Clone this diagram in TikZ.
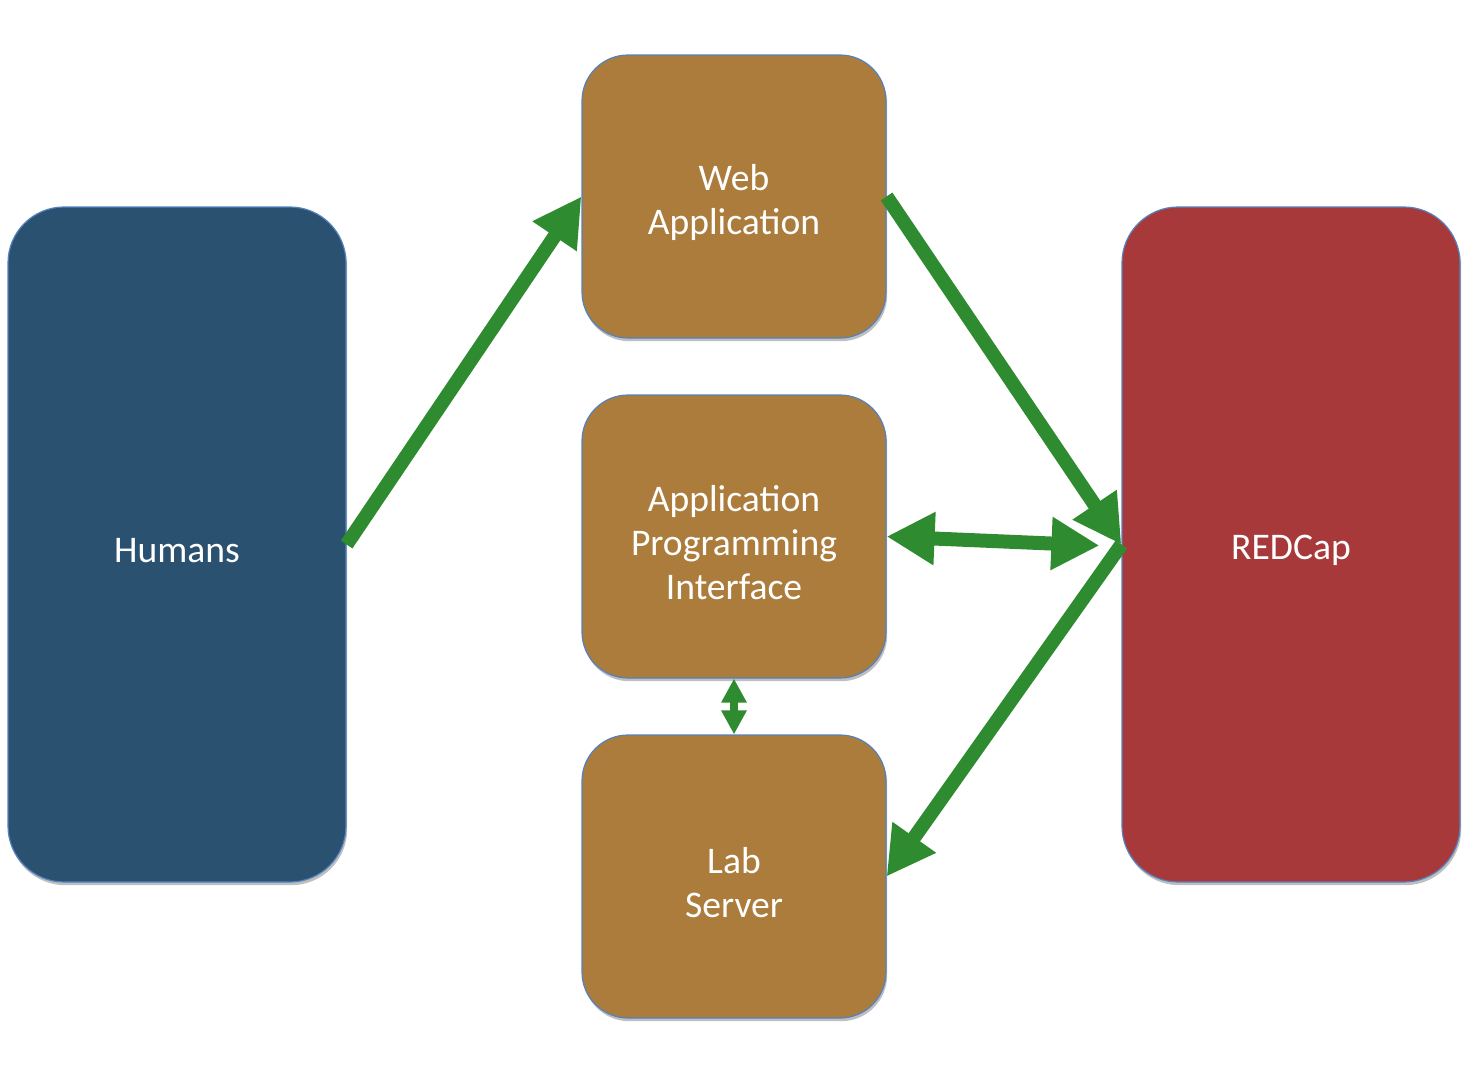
\documentclass[tikz,border=0pt]{standalone}
\usepackage{fontspec}
\setmainfont{Carlito}
\usetikzlibrary{arrows.meta,shadows}
\definecolor{humanblue}{RGB}{42,81,112}
\definecolor{appbrown}{RGB}{171,124,59}
\definecolor{redcapred}{RGB}{168,57,58}
\definecolor{edge}{RGB}{84,130,190}
\definecolor{flowgreen}{RGB}{46,139,48}
\tikzset{
  % Kästen
  box/.style={draw=edge, line width=0.6pt, rounded corners=#1, inner sep=0pt,
    drop shadow={shadow xshift=0.6pt, shadow yshift=-1.6pt, opacity=0.25, fill=black}},
  box/.default=23pt,
  % Beschriftung, etwas unter die Mitte gesetzt
  txt/.style={text=white, align=center, yshift=-3pt,
    font=\fontsize{18.8}{22}\selectfont},
  tall/.style={box=28pt, minimum width=169pt, minimum height=337.5pt},
  mid/.style={box=23pt, minimum width=152pt, minimum height=141.5pt, fill=appbrown},
  % Datenflüsse
  flow/.style={flowgreen, line width=7pt, -{Triangle[length=24pt,width=25pt]}},
  flowboth/.style={flow, {Triangle[length=24pt,width=25pt]}-{Triangle[length=24pt,width=25pt]}},
  flowsmall/.style={flowgreen, line width=4pt,
    {Triangle[length=12pt,width=12pt]}-{Triangle[length=12pt,width=12pt]}},
}
\begin{document}
\begin{tikzpicture}[x=0.5pt, y=-0.5pt]
  \useasboundingbox (0,0) rectangle (1468,1088);
  % Knoten
  \node[tall, fill=humanblue, label={[txt]center:Humans}] (humans) at (177,544.5) {};
  \node[tall, fill=redcapred, label={[txt]center:REDCap}] (redcap) at (1291,544.5) {};
  \node[mid, label={[txt]center:Web\\Application}] (web) at (734,196.5) {};
  \node[mid, label={[txt]center:Application\\Programming\\Interface}] (api) at (734,536.5) {};
  \node[mid, label={[txt]center:Lab\\Server}] (lab) at (734,876.5) {};
  % Pfeile
  \draw[flow] (humans.east) -- (web.west);
  \draw[flow] (web.east) -- (redcap.west);
  \draw[flow] (redcap.west) -- (lab.east);
  \draw[flowboth, shorten >=11pt] (api.east) -- ([yshift=-1pt]redcap.west);
  \draw[flowsmall] (api.south) -- (lab.north);
\end{tikzpicture}
\end{document}
